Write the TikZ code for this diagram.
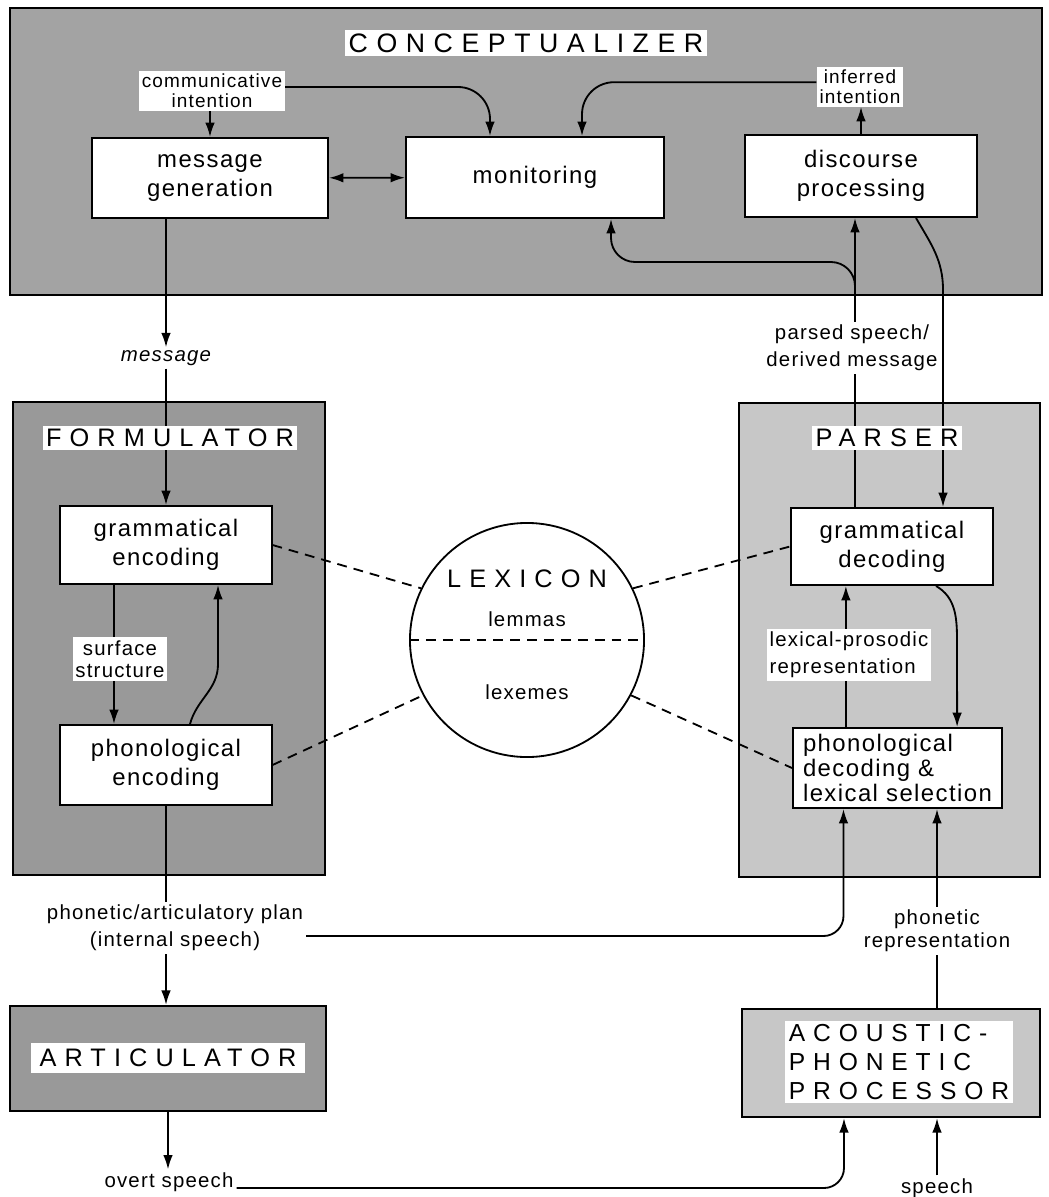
\documentclass[tikz,border=0pt]{standalone}
\usepackage{fontspec}
\setmainfont{Liberation Sans}
\newfontfamily\spacedff[LetterSpace=6]{Liberation Sans}
\newfontfamily\capsff[LetterSpace=32]{Liberation Sans}
\usepackage{tikz}
\usetikzlibrary{arrows.meta}

\newcommand\boxfont{\spacedff\fontsize{17}{20.5}\selectfont}
\newcommand\lblfont{\spacedff\fontsize{14.5}{19}\selectfont}
\newcommand\smallfont{\spacedff\fontsize{13.5}{14}\selectfont}
\newcommand\titlefont{\capsff\fontsize{18}{20}\selectfont}

\pgfdeclarelayer{back}
\pgfdeclarelayer{mid}
\pgfsetlayers{back,mid,main}

\begin{document}
\begin{tikzpicture}[x=0.025cm,y=-0.025cm,
    bigbox/.style={draw,line width=1.6pt},
    proc/.style={draw,line width=1.4pt,fill=white,align=center,font=\boxfont},
    headline/.style={fill=white,inner sep=2.5pt,font=\titlefont},
    lbl/.style={fill=white,inner sep=2pt,align=center,font=\lblfont},
    conn/.style={line width=1.3pt},
    arr/.style={conn,-{Latex[length=3.6mm,width=2.4mm]}},
    arrboth/.style={conn,{Latex[length=3.6mm,width=2.4mm]}-{Latex[length=3.6mm,width=2.4mm]}},
    dashline/.style={line width=1.3pt,dash pattern=on 7pt off 5pt}]
    \useasboundingbox (0,0) rectangle (1048,1197);

    \begin{pgfonlayer}{back}
    \node[bigbox,fill=black!36,minimum width=25.8cm,minimum height=7.175cm] (concept) at (526,151.5) {};
    \node[bigbox,fill=black!40,minimum width=7.8cm,minimum height=11.825cm] (formul) at (169,638.5) {};
    \node[bigbox,fill=black!22,minimum width=7.525cm,minimum height=11.85cm] (parser) at (889.5,640) {};
    \node[bigbox,fill=black!40,minimum width=7.9cm,minimum height=2.625cm] (artic) at (168,1058.5) {};
    \node[bigbox,fill=black!22,minimum width=7.45cm,minimum height=2.7cm] (acou) at (891,1063) {};
    \end{pgfonlayer}

    \node[headline,font=\capsff\fontsize{19}{20}\selectfont] (concepttitle) at (526,43) {CONCEPTUALIZER};
    \node[headline] (formtitle) at (170,438) {FORMULATOR};
    \node[headline] (parsetitle) at (887,438) {PARSER};
    \node[headline,inner xsep=6pt,inner ysep=4pt] (artictitle) at (168,1058) {ARTICULATOR};
    \node[headline,align=left,font=\capsff\fontsize{17.5}{20.5}\selectfont] (acoutitle) at (899,1062) {ACOUSTIC-\\PHONETIC\\PROCESSOR};

    \node[proc,minimum width=5.9cm,minimum height=2cm] (msg) at (210,178) {message\\generation};
    \node[proc,minimum width=6.45cm,minimum height=2.025cm] (mon) at (535,177.5) {monitoring};
    \node[proc,minimum width=5.8cm,minimum height=2.05cm] (disc) at (861,176) {discourse\\processing};
    \node[proc,minimum width=5.275cm,minimum height=1.95cm] (genc) at (166,545) {grammatical\\encoding};
    \node[proc,minimum width=5.275cm,minimum height=2cm] (penc) at (166,765) {phonological\\encoding};
    \node[proc,minimum width=5.05cm,minimum height=1.925cm] (gdec) at (892,546.5) {grammatical\\decoding};
    \node[proc,minimum width=5.225cm,minimum height=2cm,align=left,inner sep=2pt,
        font=\spacedff\fontsize{17}{17.5}\selectfont] (pdec) at (897.5,768) {phonological\\decoding \&\\lexical selection};

    \node[circle,draw,line width=1.3pt,fill=white,minimum size=5.85cm] (lex) at (527,640) {};
    \node[font=\titlefont] (lextitle) at (527,579) {LEXICON};
    \node[font=\lblfont] (lemmas) at (527,619) {lemmas};
    \node[font=\lblfont] (lexemes) at (527,692) {lexemes};
    \draw[dashline] (lex.west) -- (lex.east);

    \node[lbl,font=\smallfont] (comm) at (212,91) {communicative\\intention};
    \node[lbl,font=\smallfont] (inf) at (860,87) {inferred\\intention};
    \node[lbl,font=\lblfont\itshape] (mesg) at (166,358) {message};
    \node[lbl] (parsed) at (852,348) {parsed speech/\\derived message};
    \node[lbl,font=\spacedff\fontsize{14.5}{16}\selectfont] (surf) at (120,659) {surface\\structure};
    \node[lbl,align=left] (lexpro) at (849,655) {lexical-prosodic\\representation};
    \node[lbl] (plan) at (175,928) {phonetic/articulatory plan\\(internal speech)};
    \node[lbl,font=\spacedff\fontsize{14.5}{16.5}\selectfont] (phrep) at (937,931) {phonetic\\representation};
    \node[lbl] (overt) at (169,1182) {overt speech};
    \node[lbl] (speech) at (937,1188) {speech};

    \coordinate (bend) at (611,262);

    \begin{pgfonlayer}{mid}
    \draw[arr] (comm.south -| msg.north) -- (msg.north);
    \draw[arr,rounded corners=0.8cm] ([yshift=0.1cm]comm.east) -| ([xshift=-1.125cm]mon.north);
    \draw[arr,rounded corners=0.8cm] ([yshift=0.12cm]inf.west) -| ([xshift=1.175cm]mon.north);
    \draw[arr] (disc.north) -- (disc.north |- inf.south);
    \draw[arrboth] (msg) -- (mon);
    \draw[arr] (msg.south -| mesg) -- (mesg.north);
    \draw[arr] (mesg.south) -- (mesg.south |- genc.north);
    \draw[arr] ([xshift=-1.3cm]genc.south) -- ([xshift=-1.3cm]penc.north);
    \draw[arr] ([xshift=0.6cm]penc.north) to[out=75,in=-90] ++(0.7cm,1.5cm) -- ([xshift=1.3cm]genc.south);
    \draw[arr] (penc.south) -- (penc.south |- artic.north);
    \draw[arr,rounded corners=0.5cm] ([yshift=-0.2cm]plan.east) -| ([xshift=-1.35cm]pdec.south);
    \draw[arr] (phrep.south |- acou.north) -- (phrep.north |- pdec.south);
    \draw[arr] (artic.south) -- (artic.south |- overt.north);
    \draw[arr,rounded corners=0.5cm] ([yshift=-0.15cm]overt.east) -| ([xshift=-1.175cm]acou.south);
    \draw[arr] (speech.north) -- (speech.north |- acou.south);

    \draw[arr] ([xshift=-0.925cm]gdec.north) -- ([xshift=-0.925cm]gdec.north |- disc.south);
    \draw[arr,rounded corners=0.6cm] ([xshift=-0.925cm]gdec.north |- concept.south) |- (bend) -- ([xshift=1.9cm]mon.south);
    \draw[arr] ([xshift=1.375cm]disc.south) to[out=-60,in=90] ++(0.675cm,-1.8cm) -- ([xshift=1.275cm]gdec.north);
    \draw[arr] ([xshift=-1.29cm]pdec.north) -- ([xshift=-1.29cm]pdec.north |- gdec.south);
    \draw[arr] ([xshift=1.1cm]gdec.south) to[out=-30,in=90] ++(0.525cm,-1.4cm) -- ([xshift=1.49cm]pdec.north);

    \draw[dashline] (genc.east) -- (lex.154);
    \draw[dashline] (penc.east) -- (lex.208);
    \draw[dashline] (lex.26) -- (gdec.west);
    \draw[dashline] (lex.332) -- (pdec.west);
    \end{pgfonlayer}
\end{tikzpicture}
\end{document}
